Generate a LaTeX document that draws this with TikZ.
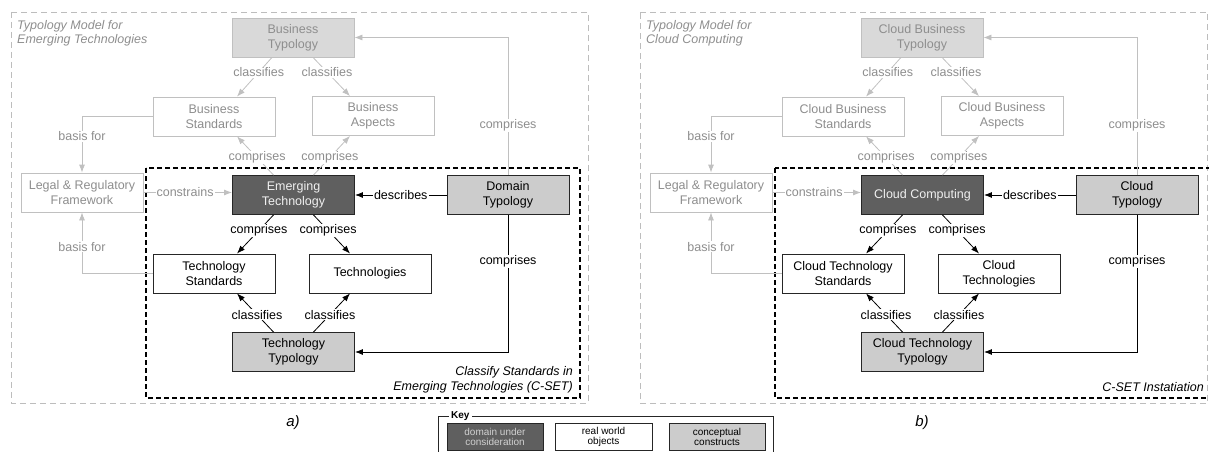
\documentclass[tikz,border=0pt]{standalone}
\usepackage{fontspec}
\setmainfont{Liberation Sans}
\usetikzlibrary{arrows.meta}

\definecolor{lgline}{HTML}{C0C0C0}
\definecolor{lgtext}{HTML}{8E8E8E}
\definecolor{darkfill}{HTML}{5F5F5F}
\definecolor{conceptfill}{HTML}{CCCCCC}
\definecolor{fadedfill}{HTML}{D9D9D9}
\definecolor{frameline}{HTML}{BDBDBD}

\newcommand\nodefont{\fontsize{12.5}{15}\selectfont}
\newcommand\keyfont{\fontsize{10}{10.5}\selectfont}

\tikzset{
  box/.style={draw=black!85, line width=0.9pt, minimum width=122pt, minimum height=39pt,
              inner sep=0pt, align=center, font=\nodefont},
  domainbox/.style={box, fill=darkfill, text=white!94!black},
  realbox/.style={box, fill=white},
  conceptbox/.style={box, fill=conceptfill},
  fadedreal/.style={box, draw=lgline, line width=0.8pt, fill=white, text=lgtext},
  fadedconcept/.style={box, draw=lgline, line width=0.8pt, fill=fadedfill, text=lgtext},
  lbl/.style={font=\nodefont, fill=white, inner sep=1pt, text=black},
  fadedlbl/.style={lbl, text=lgtext},
  flow/.style={-{Latex[length=8pt,width=6pt]}, line width=0.8pt, draw=black},
  fadedflow/.style={flow, draw=lgline},
  outerframe/.style={draw=frameline, line width=0.7pt, dash pattern=on 6pt off 4pt},
  innerframe/.style={draw=black, line width=1.1pt, dash pattern=on 5pt off 3pt},
  paneltitle/.style={anchor=north west, align=left, inner sep=0pt, text=lgtext,
                     font=\fontsize{12.5}{14.5}\selectfont\itshape},
  panelcaption/.style={anchor=north east, align=right, inner sep=0pt,
                       font=\nodefont\itshape},
  sublabel/.style={font=\fontsize{15}{17}\selectfont\itshape},
  keybox/.style={draw=black!85, line width=0.8pt, minimum height=27pt, inner sep=0pt,
                 align=center, font=\keyfont},
}

\begin{document}
\begin{tikzpicture}[x=1pt,y=-1pt]
\useasboundingbox (0,0) rectangle (1209,452);
\clip (0,0) rectangle (1209,452);

% ---------------- panel a: emerging technologies ----------------
\draw[outerframe] (11,12) rectangle (588,403);
\draw[innerframe] (146,168) rectangle (580,398);
\node[paneltitle] (atitle) at (17,20) {Typology Model for\\Emerging Technologies};
\node[panelcaption] (acap) at (573,366) {Classify Standards in\\Emerging Technologies (C-SET)};

\node[fadedconcept] (bt) at (293,37.5)  {Business\\Typology};
\node[fadedreal]    (bs) at (214,116.5) {Business\\Standards};
\node[fadedreal]    (ba) at (373,116)   {Business\\Aspects};
\node[fadedreal]    (lg) at (82,192.5)  {Legal \& Regulatory\\Framework};
\node[domainbox]    (et) at (293.5,195) {Emerging\\Technology};
\node[conceptbox]   (dt) at (508,195)   {Domain\\Typology};
\node[realbox]      (ts) at (214,273.5) {Technology\\Standards};
\node[realbox]      (tc) at (370,273.5) {Technologies};
\node[conceptbox]   (tt) at (293.5,352) {Technology\\Typology};

\draw[fadedflow] ([xshift=-21pt]bt.south) -- node[fadedlbl,pos=0.38]{classifies} ([xshift=23pt]bs.north);
\draw[fadedflow] ([xshift=20pt]bt.south)  -- node[fadedlbl,pos=0.38]{classifies} ([xshift=-23pt]ba.north);
\draw[fadedflow] ([xshift=-20pt]et.north) -- node[fadedlbl,pos=0.45]{comprises} ([xshift=23pt]bs.south);
\draw[fadedflow] ([xshift=20pt]et.north)  -- node[fadedlbl,pos=0.45]{comprises} ([xshift=-23pt]ba.south);
\draw[fadedflow] (bs.west) -| node[fadedlbl,pos=0.675]{basis for} (lg.north);
\draw[fadedflow] (ts.west) -| node[fadedlbl,pos=0.72]{basis for} (lg.south);
\draw[fadedflow] (lg.east) -- node[fadedlbl,pos=0.47]{constrains} (lg.east -| et.west);
\draw[fadedflow] (dt.north) |- node[fadedlbl,pos=0.18]{comprises} (bt.east);

\draw[flow] (dt.west) -- node[lbl]{describes} (et.east);
\draw[flow] ([xshift=-20pt]et.south) -- node[lbl,pos=0.4]{comprises} ([xshift=23pt]ts.north);
\draw[flow] ([xshift=20pt]et.south)  -- node[lbl,pos=0.4]{comprises} ([xshift=-20pt]tc.north);
\draw[flow] ([xshift=-20pt]tt.north) -- node[lbl,pos=0.45]{classifies} ([xshift=23pt]ts.south);
\draw[flow] ([xshift=20pt]tt.north)  -- node[lbl,pos=0.45]{classifies} ([xshift=-20pt]tc.south);
\draw[flow] (dt.south) |- node[lbl,pos=0.17]{comprises} (tt.east);

\node[sublabel] (alabel) at (293,423) {a)};

% ---------------- panel b: cloud computing ----------------
\draw[outerframe] (640,12) -- (1207.5,12) -- (1207.5,403) -- (640,403) -- cycle;
\draw[innerframe] (775,168) rectangle (1211,398);
\node[paneltitle] (btitle) at (646,20) {Typology Model for\\Cloud Computing};
\node[panelcaption] (bcap) at (1204,382) {C-SET Instatiation};

\begin{scope}[xshift=629pt]
\node[fadedconcept] (cbt) at (293,37.5)  {Cloud Business\\Typology};
\node[fadedreal]    (cbs) at (214,116.5) {Cloud Business\\Standards};
\node[fadedreal]    (cba) at (373,116)   {Cloud Business\\Aspects};
\node[fadedreal]    (clg) at (82,192.5)  {Legal \& Regulatory\\Framework};
\node[domainbox]    (cet) at (293.5,195) {Cloud Computing};
\node[conceptbox]   (cdt) at (508,195)   {Cloud\\Typology};
\node[realbox]      (cts) at (214,273.5) {Cloud Technology\\Standards};
\node[realbox]      (ctc) at (370,273.5) {Cloud\\Technologies};
\node[conceptbox]   (ctt) at (293.5,352) {Cloud Technology\\Typology};
\end{scope}

\draw[fadedflow] ([xshift=-21pt]cbt.south) -- node[fadedlbl,pos=0.38]{classifies} ([xshift=23pt]cbs.north);
\draw[fadedflow] ([xshift=20pt]cbt.south)  -- node[fadedlbl,pos=0.38]{classifies} ([xshift=-23pt]cba.north);
\draw[fadedflow] ([xshift=-20pt]cet.north) -- node[fadedlbl,pos=0.45]{comprises} ([xshift=23pt]cbs.south);
\draw[fadedflow] ([xshift=20pt]cet.north)  -- node[fadedlbl,pos=0.45]{comprises} ([xshift=-23pt]cba.south);
\draw[fadedflow] (cbs.west) -| node[fadedlbl,pos=0.675]{basis for} (clg.north);
\draw[fadedflow] (cts.west) -| node[fadedlbl,pos=0.72]{basis for} (clg.south);
\draw[fadedflow] (clg.east) -- node[fadedlbl,pos=0.47]{constrains} (clg.east -| cet.west);
\draw[fadedflow] (cdt.north) |- node[fadedlbl,pos=0.18]{comprises} (cbt.east);

\draw[flow] (cdt.west) -- node[lbl]{describes} (cet.east);
\draw[flow] ([xshift=-20pt]cet.south) -- node[lbl,pos=0.4]{comprises} ([xshift=23pt]cts.north);
\draw[flow] ([xshift=20pt]cet.south)  -- node[lbl,pos=0.4]{comprises} ([xshift=-20pt]ctc.north);
\draw[flow] ([xshift=-20pt]ctt.north) -- node[lbl,pos=0.45]{classifies} ([xshift=23pt]cts.south);
\draw[flow] ([xshift=20pt]ctt.north)  -- node[lbl,pos=0.45]{classifies} ([xshift=-20pt]ctc.south);
\draw[flow] (cdt.south) |- node[lbl,pos=0.17]{comprises} (ctt.east);

\node[sublabel] (blabel) at (922,423) {b)};

% ---------------- key ----------------
\draw[line width=0.8pt, draw=black!85] (438,470) -- (438,416) -- (773,416) -- (773,470);
\node[anchor=west, fill=white, inner sep=2pt, font=\fontsize{10}{11}\selectfont\bfseries] (keytitle) at (449,416) {Key};
\node[keybox, fill=darkfill, text=black!18, minimum width=96pt] (kdomain) at (495,437) {domain under\\consideration};
\node[keybox, fill=white, minimum width=97pt] (kreal) at (603.5,437) {real world\\objects};
\node[keybox, fill=conceptfill, minimum width=96pt] (kconcept) at (717,437) {conceptual\\constructs};
\end{tikzpicture}
\end{document}
